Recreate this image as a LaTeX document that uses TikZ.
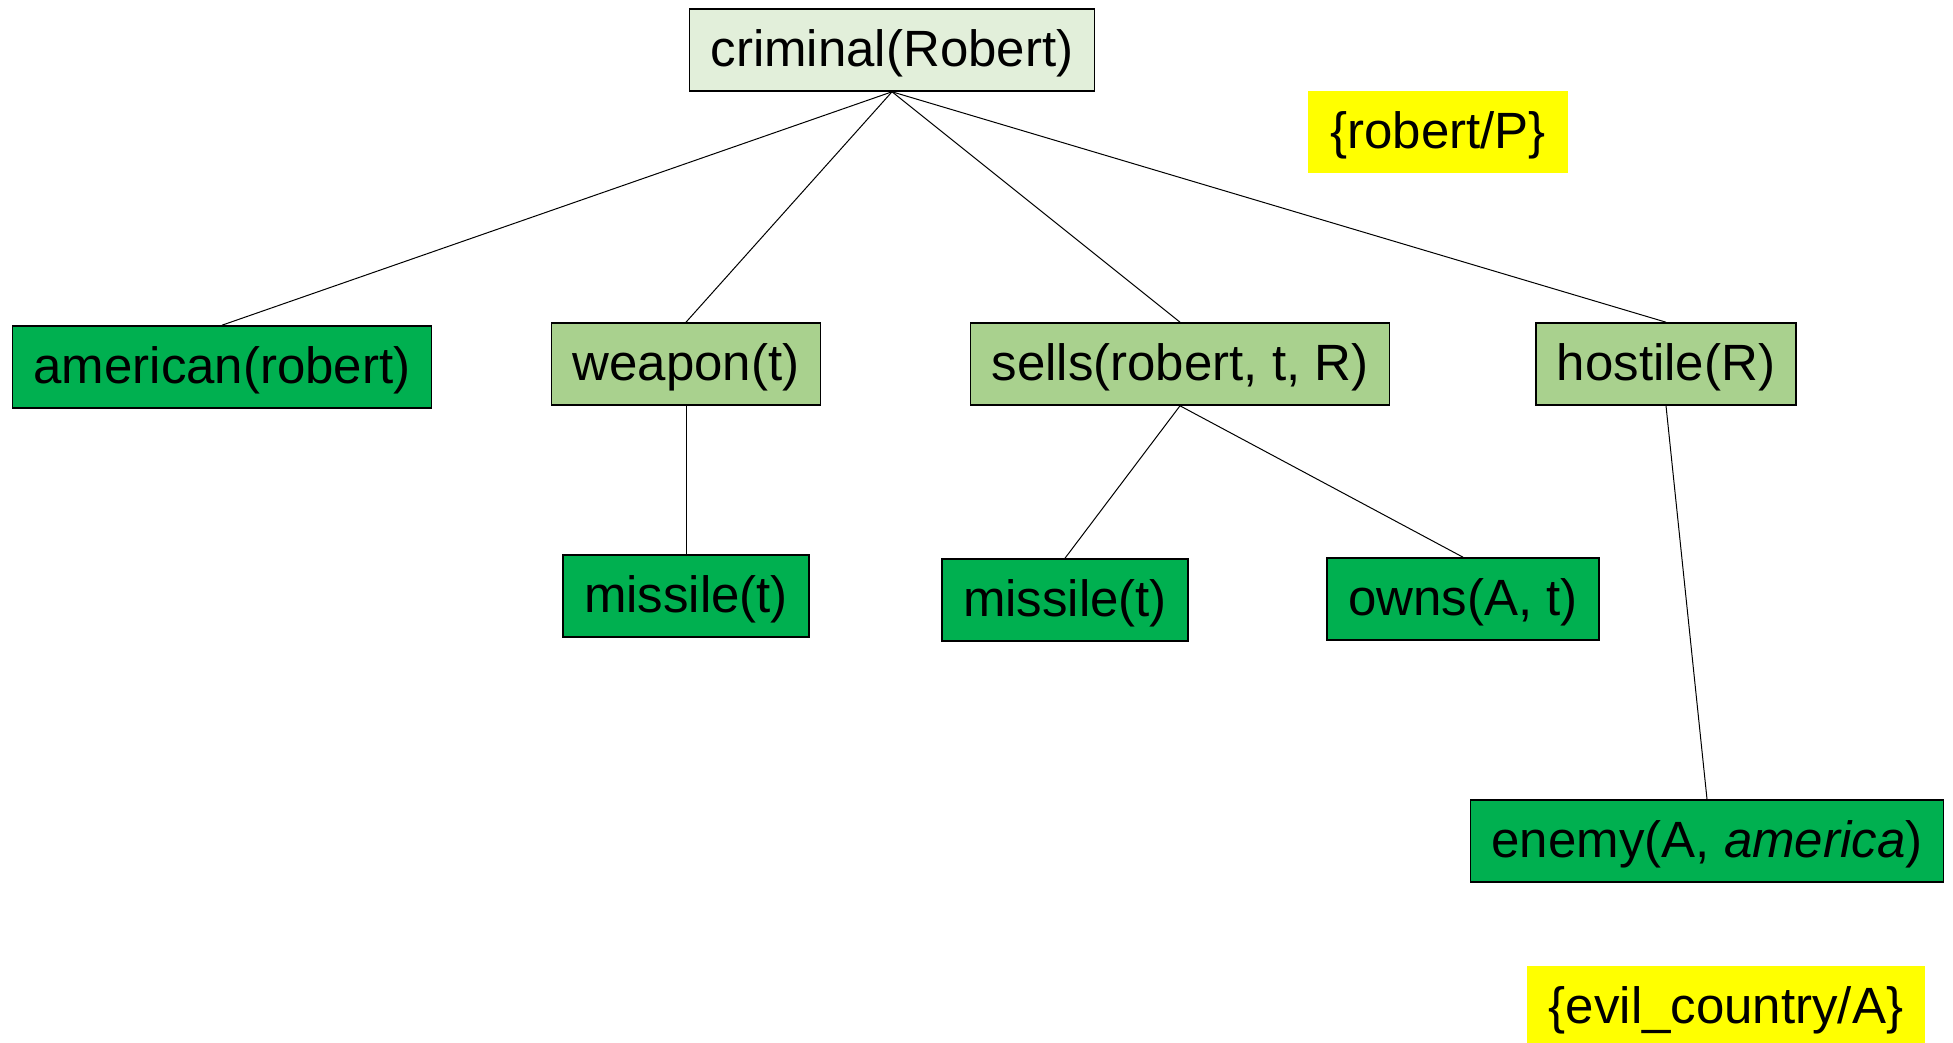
\documentclass[tikz,border=0pt]{standalone}
\usepackage{fontspec}
\setmainfont{Liberation Sans}
\usepackage{tikz}
\usetikzlibrary{positioning}
\definecolor{goalgreen}{RGB}{226,239,218}
\definecolor{subgreen}{RGB}{169,209,142}
\definecolor{factgreen}{RGB}{0,176,80}
\definecolor{substyellow}{RGB}{255,255,0}
\tikzset{
    %Define style for the proof boxes
    goal/.style={
           rectangle,
           draw=black, line width=0.8pt,
           inner xsep=10.5pt, inner ysep=0pt,
           minimum height=41pt,
           text height=20pt, text depth=3.2pt,
           font=\fontsize{25.5}{30}\selectfont,
           text centered,
           fill=goalgreen},
    subgoal/.style={
           goal,
           fill=subgreen},
    fact/.style={
           goal,
           fill=factgreen},
    %Define style for substitutions
    subst/.style={
           rectangle,
           inner xsep=11pt, inner ysep=0pt,
           minimum height=41pt,
           text height=20pt, text depth=3.2pt,
           font=\fontsize{25.5}{30}\selectfont,
           text centered,
           fill=substyellow},
    % Define line style
    link/.style={
           draw=black,
           line width=0.5pt}
}
\begin{document}
\begin{tikzpicture}[x=0.5pt,y=-0.5pt]
\useasboundingbox (0,0) rectangle (1953,1043);
\node[goal](crim) at (892,50){criminal(Robert)};
\node[subst](sub1) at (1438,132){\{robert/P\}};
\node[fact](amer) at (222,367){american(robert)};
\node[subgoal](weap) at (686,364){weapon(t)};
\node[subgoal](sell) at (1180,364){sells(robert, t, R)};
\node[subgoal](host) at (1666,364){hostile(R)};
\node[fact](mis1) at (686,596){missile(t)};
\node[fact](mis2) at (1065,600){missile(t)};
\node[fact](owns) at (1463,599){owns(A, t)};
\node[fact](enem) at (1707,841){enemy(A, \textit{america})};
\node[subst](sub2) at (1726,1007){\{evil\_country/A\}};
 \path[link]
    (crim.south) edge (amer.north) edge (weap.north)
                 edge (sell.north) edge (host.north)
    (weap.south) edge (mis1.north)
    (sell.south) edge (mis2.north) edge (owns.north)
    (host.south) edge (enem.north);
\end{tikzpicture}
\end{document}
